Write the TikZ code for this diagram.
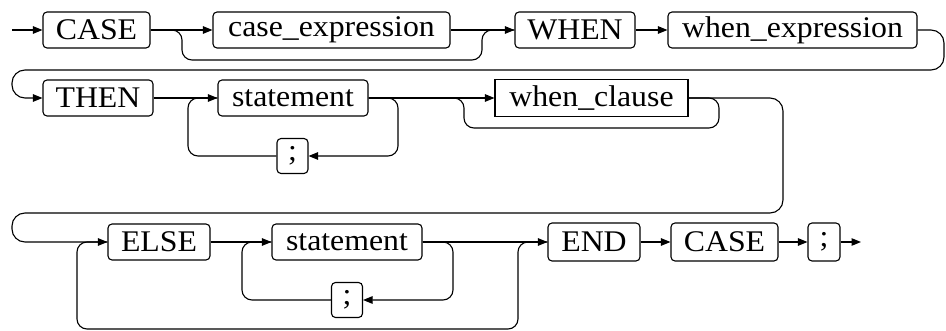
\documentclass[tikz,border=0pt]{standalone}
\usepackage{fontspec}
\setmainfont{Liberation Serif}[FakeStretch=1.06]
\usetikzlibrary{arrows.meta}
\begin{document}
\begin{tikzpicture}[x=1pt,y=-1pt,line width=1.1pt,
  kw/.style={draw, fill=white, rounded corners=4pt, minimum height=36pt, inner sep=0pt, font=\fontsize{30}{32}\selectfont},
  rectbox/.style={draw, fill=white, minimum height=37pt, inner sep=0pt, font=\fontsize{30}{32}\selectfont},
  arr/.style={-{Triangle[length=9.5pt,width=7.5pt]}},
  curvy/.style={rounded corners=10pt},
  wrapline/.style={rounded corners=13pt}]
\useasboundingbox (0,0) rectangle (946,331);
% nodes
\node[kw, minimum width=107pt] (case1) at (96.5,30) {CASE};
\node[kw, minimum width=237pt] (cexpr) at (331.5,30) {case\_expression};
\node[kw, minimum width=120pt] (when) at (575,30) {WHEN};
\node[kw, minimum width=249pt] (wexpr) at (792.5,30) {when\_expression};
\node[kw, minimum width=110pt] (then) at (98,98) {THEN};
\node[kw, minimum width=150pt] (stmt1) at (293,98) {statement};
\node[kw, minimum width=31pt, minimum height=35pt] (semi1) at (292.5,156) {;};
\node[rectbox, minimum width=193pt] (wcl) at (591.5,98) {when\_clause};
\node[kw, minimum width=102pt] (else) at (159,242) {ELSE};
\node[kw, minimum width=150pt] (stmt2) at (347,242) {statement};
\node[kw, minimum width=31pt, minimum height=35pt] (semi2) at (347,300) {;};
\node[kw, minimum width=92pt, minimum height=38pt] (end) at (594,242) {END};
\node[kw, minimum width=107pt, minimum height=38pt] (case2) at (724.5,242) {CASE};
\node[kw, minimum width=32pt, minimum height=38pt] (semi3) at (824,242) {;};
\coordinate (start) at (12,30);
\coordinate (fin) at (861,242);
% row 1
\draw[arr] (start) -- (case1);
\draw[arr] (case1) -- (cexpr);
\draw[curvy] (case1.east) -- (182,30) -- (182,60) -- (482,60) -- (482,30) -- (when.west);
\draw[arr] (cexpr) -- (when);
\draw[arr] (when) -- (wexpr);
\draw[arr, wrapline] (wexpr.east) -- (944,30) -- (944,70) -- (12,70) -- (12,98) -- (then.west);
% row 2
\draw[arr] (then) -- (stmt1);
\draw[arr, curvy] (stmt1.east) -- (398,98) -- (398,156) -- (semi1.east);
\draw[curvy] (semi1.west) -- (188,156) -- (188,98) -- (stmt1.west);
\draw[arr] (stmt1) -- (wcl);
\draw[curvy] (stmt1.east) -- (464,98) -- (464,128) -- (719,128) -- (719,98) -- (wcl.east);
\draw[arr, wrapline] (wcl.east) -- (783,98) -- (783,213) -- (12,213) -- (12,242) -- (else.west);
% row 4
\draw[curvy] (else.west) -- (77,242) -- (77,329) -- (518,329) -- (518,242) -- (end.west);
\draw[arr] (else) -- (stmt2);
\draw[arr, curvy] (stmt2.east) -- (453,242) -- (453,300) -- (semi2.east);
\draw[curvy] (semi2.west) -- (242,300) -- (242,242) -- (stmt2.west);
\draw[arr] (stmt2) -- (end);
\draw[arr] (end) -- (case2);
\draw[arr] (case2) -- (semi3);
\draw[arr] (semi3) -- (fin);
\end{tikzpicture}
\end{document}
